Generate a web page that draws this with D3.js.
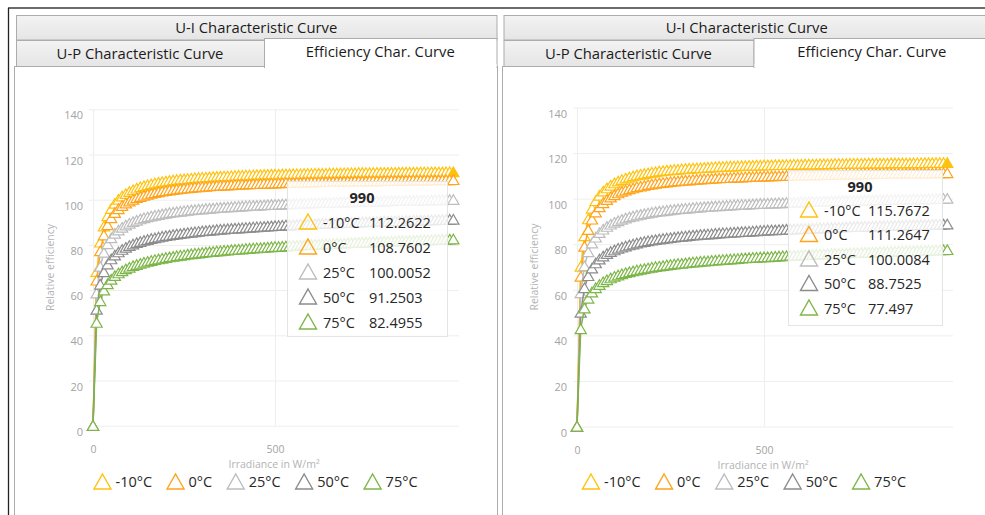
<!DOCTYPE html>
<html>
<head>
<meta charset="utf-8">
<script src="https://cdn.jsdelivr.net/npm/d3@7"></script>
<style>
  html, body { margin: 0; padding: 0; background: #fff; }
  svg { display: block; font-family: "Open Sans", "Noto Sans", sans-serif; }
</style>
</head>
<body>
<svg id="chart" width="985" height="515"></svg>
<script>
// Irradiance steps in W/m²
const irradiance = [0,10,20,30,40,50,60,70,80,90,100,110,120,130,140,150,160,170,180,190,
  200,210,220,230,240,250,260,270,280,290,300,310,320,330,340,350,360,370,380,390,
  400,410,420,430,440,450,460,470,480,490,500,510,520,530,540,550,560,570,580,590,
  600,610,620,630,640,650,660,670,680,690,700,710,720,730,740,750,760,770,780,790,
  800,810,820,830,840,850,860,870,880,890,900,910,920,930,940,950,960,970,980,990];

const temperatures = ["-10°C", "0°C", "25°C", "50°C", "75°C"];
const seriesColors = ["#FFC20E", "#FFA31A", "#BDBDBD", "#8C8C8C", "#7DB648"];

const yTicks = [0, 20, 40, 60, 80, 100, 120, 140];
const xTicks = [0, 500];

// Module A – relative efficiency per cell temperature
const leftMinus10 = [0,68.1,81.1,88.2,92.8,96.0,98.3,100.1,101.5,102.6,
  103.5,104.3,105.0,105.6,106.1,106.5,106.9,107.3,107.6,107.9,
  108.1,108.4,108.6,108.8,109.0,109.1,109.3,109.4,109.6,109.7,
  109.8,109.9,110.0,110.1,110.2,110.3,110.4,110.4,110.5,110.6,
  110.7,110.7,110.8,110.8,110.9,111.0,111.0,111.1,111.1,111.2,
  111.2,111.2,111.3,111.3,111.3,111.4,111.4,111.4,111.5,111.5,
  111.5,111.6,111.6,111.6,111.6,111.7,111.7,111.7,111.7,111.8,
  111.8,111.8,111.8,111.9,111.9,111.9,111.9,111.9,112.0,112.0,
  112.0,112.0,112.0,112.0,112.1,112.1,112.1,112.1,112.1,112.1,
  112.15,112.16,112.17,112.18,112.19,112.21,112.22,112.23,112.25,112.2622];
const leftZero = [0,64.3,77.3,84.3,88.8,91.9,94.2,95.9,97.3,98.4,
  99.3,100.1,100.8,101.3,101.8,102.3,102.7,103.0,103.4,103.7,
  103.9,104.2,104.4,104.6,104.8,105.0,105.1,105.3,105.5,105.6,
  105.7,105.8,106.0,106.1,106.2,106.3,106.4,106.4,106.5,106.6,
  106.7,106.8,106.8,106.9,107.0,107.0,107.1,107.2,107.2,107.3,
  107.3,107.4,107.4,107.5,107.5,107.5,107.6,107.6,107.7,107.7,
  107.8,107.8,107.8,107.9,107.9,107.9,108.0,108.0,108.0,108.1,
  108.1,108.1,108.2,108.2,108.2,108.2,108.3,108.3,108.3,108.3,
  108.4,108.4,108.4,108.4,108.5,108.5,108.5,108.5,108.6,108.6,
  108.6,108.62,108.63,108.65,108.67,108.68,108.71,108.73,108.74,108.7602];
const left25 = [0,58.6,70.4,76.6,80.4,83.0,85.0,86.5,87.7,88.7,
  89.5,90.2,90.8,91.4,91.9,92.3,92.7,93.0,93.3,93.6,
  93.9,94.2,94.4,94.6,94.8,95.0,95.2,95.4,95.5,95.7,
  95.8,96.0,96.1,96.2,96.4,96.5,96.6,96.7,96.8,96.9,
  97.0,97.1,97.2,97.3,97.4,97.4,97.5,97.6,97.7,97.8,
  97.8,97.9,98.0,98.0,98.1,98.1,98.2,98.3,98.3,98.4,
  98.5,98.5,98.6,98.6,98.7,98.7,98.8,98.8,98.9,98.9,
  99.0,99.0,99.0,99.1,99.1,99.2,99.2,99.2,99.3,99.3,
  99.4,99.4,99.4,99.5,99.5,99.5,99.6,99.6,99.6,99.7,
  99.7,99.74,99.77,99.81,99.84,99.87,99.90,99.94,99.97,100.0052];
const left50 = [0,51.4,62.5,68.0,71.4,73.7,75.4,76.8,77.9,78.8,
  79.6,80.3,80.9,81.4,81.9,82.3,82.7,83.0,83.4,83.7,
  84.0,84.2,84.5,84.7,84.9,85.1,85.3,85.5,85.7,85.9,
  86.1,86.2,86.4,86.5,86.7,86.8,86.9,87.1,87.2,87.3,
  87.4,87.5,87.6,87.7,87.8,87.9,88.0,88.1,88.2,88.3,
  88.4,88.5,88.6,88.7,88.7,88.8,88.9,89.0,89.1,89.1,
  89.2,89.3,89.3,89.4,89.5,89.5,89.6,89.7,89.7,89.8,
  89.9,89.9,90.0,90.0,90.1,90.1,90.2,90.2,90.3,90.3,
  90.4,90.4,90.5,90.5,90.6,90.6,90.7,90.7,90.8,90.8,
  90.87,90.91,90.95,90.99,91.04,91.08,91.12,91.17,91.21,91.2503];
const left75 = [0,45.6,55.2,59.9,62.7,64.7,66.3,67.5,68.4,69.3,
  70.0,70.7,71.2,71.7,72.2,72.6,73.0,73.4,73.7,74.0,
  74.3,74.6,74.8,75.1,75.3,75.5,75.8,76.0,76.2,76.3,
  76.5,76.7,76.9,77.0,77.2,77.3,77.5,77.6,77.8,77.9,
  78.0,78.1,78.3,78.4,78.5,78.6,78.7,78.8,78.9,79.1,
  79.2,79.2,79.3,79.4,79.5,79.6,79.7,79.8,79.9,80.0,
  80.1,80.1,80.2,80.3,80.4,80.4,80.5,80.6,80.7,80.7,
  80.8,80.9,81.0,81.0,81.1,81.1,81.2,81.3,81.3,81.4,
  81.5,81.5,81.6,81.6,81.7,81.8,81.8,81.9,81.9,82.0,
  82.04,82.09,82.14,82.19,82.24,82.30,82.35,82.40,82.45,82.4955];

// Module B – relative efficiency per cell temperature
const rightMinus10 = [0,70.2,83.6,91.0,95.7,99.0,101.4,103.2,104.6,105.8,
  106.8,107.6,108.3,108.9,109.4,109.9,110.3,110.6,110.9,111.2,
  111.5,111.7,112.0,112.2,112.4,112.5,112.7,112.8,113.0,113.1,
  113.2,113.3,113.4,113.5,113.6,113.7,113.8,113.9,114.0,114.0,
  114.1,114.2,114.2,114.3,114.4,114.4,114.5,114.5,114.6,114.6,
  114.7,114.7,114.7,114.8,114.8,114.8,114.9,114.9,115.0,115.0,
  115.0,115.1,115.1,115.1,115.1,115.2,115.2,115.2,115.2,115.3,
  115.3,115.3,115.3,115.4,115.4,115.4,115.4,115.4,115.5,115.5,
  115.5,115.5,115.5,115.5,115.6,115.6,115.6,115.6,115.6,115.6,
  115.65,115.66,115.67,115.69,115.70,115.72,115.73,115.74,115.76,115.7672];
const rightZero = [0,65.8,79.0,86.3,90.9,94.0,96.3,98.1,99.5,100.6,
  101.6,102.4,103.1,103.7,104.2,104.6,105.1,105.4,105.7,106.1,
  106.3,106.6,106.8,107.0,107.2,107.4,107.6,107.7,107.9,108.0,
  108.1,108.3,108.4,108.5,108.6,108.7,108.8,108.9,109.0,109.1,
  109.1,109.2,109.3,109.4,109.4,109.5,109.6,109.6,109.7,109.7,
  109.8,109.8,109.9,109.9,110.0,110.0,110.1,110.1,110.2,110.2,
  110.2,110.3,110.3,110.3,110.4,110.4,110.5,110.5,110.5,110.6,
  110.6,110.6,110.7,110.7,110.7,110.7,110.8,110.8,110.8,110.8,
  110.9,110.9,110.9,110.9,111.0,111.0,111.0,111.0,111.1,111.1,
  111.1,111.12,111.13,111.15,111.17,111.19,111.21,111.23,111.24,111.2647];
const right25 = [0,58.6,70.4,76.6,80.4,83.0,85.0,86.5,87.7,88.7,
  89.5,90.2,90.8,91.4,91.9,92.3,92.7,93.0,93.3,93.6,
  93.9,94.2,94.4,94.6,94.8,95.0,95.2,95.4,95.5,95.7,
  95.8,96.0,96.1,96.2,96.4,96.5,96.6,96.7,96.8,96.9,
  97.0,97.1,97.2,97.3,97.4,97.4,97.5,97.6,97.7,97.8,
  97.8,97.9,98.0,98.0,98.1,98.1,98.2,98.3,98.3,98.4,
  98.5,98.5,98.6,98.6,98.7,98.7,98.8,98.8,98.9,98.9,
  99.0,99.0,99.0,99.1,99.1,99.2,99.2,99.2,99.3,99.3,
  99.4,99.4,99.4,99.5,99.5,99.5,99.6,99.6,99.6,99.7,
  99.7,99.74,99.77,99.81,99.84,99.87,99.90,99.94,99.97,100.0084];
const right50 = [0,50.0,60.8,66.1,69.4,71.7,73.4,74.7,75.8,76.7,
  77.4,78.1,78.6,79.1,79.6,80.0,80.4,80.8,81.1,81.4,
  81.7,81.9,82.2,82.4,82.6,82.8,83.0,83.2,83.4,83.5,
  83.7,83.9,84.0,84.2,84.3,84.4,84.5,84.7,84.8,84.9,
  85.0,85.1,85.2,85.3,85.4,85.5,85.6,85.7,85.8,85.9,
  86.0,86.1,86.2,86.2,86.3,86.4,86.5,86.5,86.6,86.7,
  86.8,86.8,86.9,86.9,87.0,87.1,87.1,87.2,87.3,87.3,
  87.4,87.4,87.5,87.6,87.6,87.7,87.7,87.8,87.8,87.9,
  87.9,88.0,88.0,88.1,88.1,88.1,88.2,88.2,88.3,88.3,
  88.38,88.42,88.46,88.50,88.55,88.58,88.63,88.67,88.71,88.7525];
const right75 = [0,42.8,51.9,56.2,58.9,60.8,62.2,63.4,64.3,65.1,
  65.8,66.4,66.9,67.4,67.8,68.2,68.6,68.9,69.2,69.5,
  69.8,70.1,70.3,70.5,70.8,71.0,71.2,71.4,71.5,71.7,
  71.9,72.1,72.2,72.4,72.5,72.6,72.8,72.9,73.1,73.2,
  73.3,73.4,73.5,73.6,73.8,73.9,74.0,74.1,74.2,74.3,
  74.4,74.4,74.5,74.6,74.7,74.8,74.9,75.0,75.0,75.1,
  75.2,75.3,75.4,75.4,75.5,75.6,75.6,75.7,75.8,75.9,
  75.9,76.0,76.0,76.1,76.2,76.2,76.3,76.4,76.4,76.5,
  76.5,76.6,76.6,76.7,76.8,76.8,76.9,76.9,77.0,77.0,
  77.07,77.12,77.16,77.21,77.26,77.31,77.36,77.40,77.45,77.497];

const svg = d3.select("#chart");
const defs = svg.append("defs");
const grad = defs.append("linearGradient").attr("id", "tabFill")
  .attr("x1", 0).attr("y1", 0).attr("x2", 0).attr("y2", 1);
grad.append("stop").attr("offset", "0%").attr("stop-color", "#f3f3f3");
grad.append("stop").attr("offset", "100%").attr("stop-color", "#e5e5e5");

svg.append("rect").attr("width", 985).attr("height", 515).attr("fill", "#fff");
// window frame
svg.append("line").attr("x1", 8).attr("y1", 8).attr("x2", 985).attr("y2", 8)
  .attr("stroke", "#6b6b6b").attr("stroke-width", 2);
svg.append("line").attr("x1", 8.5).attr("y1", 8).attr("x2", 8.5).attr("y2", 515)
  .attr("stroke", "#222").attr("stroke-width", 1.3);

const smallTri = "M0,-5L5.6,4.6L-5.6,4.6Z";
const bigTri = "M0,-8L8.5,7L-8.5,7Z";

function drawPanel(p) {
  const g = svg.append("g");

  // content frame
  g.append("rect").attr("x", p.left + 0.5).attr("y", 66.5)
    .attr("width", p.right - p.left).attr("height", 470)
    .attr("fill", "#fff").attr("stroke", "#acacac");

  // tab strip
  g.append("rect").attr("x", p.tabL + 0.5).attr("y", 15.5)
    .attr("width", p.tabR - p.tabL).attr("height", 24.5)
    .attr("fill", "url(#tabFill)").attr("stroke", "#acacac");
  g.append("rect").attr("x", p.tabL + 0.5).attr("y", 40.5)
    .attr("width", p.split - p.tabL).attr("height", 26)
    .attr("fill", "url(#tabFill)").attr("stroke", "#acacac");
  g.append("rect").attr("x", p.split + 0.5).attr("y", 38.5)
    .attr("width", p.tabR - p.split).attr("height", 29)
    .attr("fill", "#fff").attr("stroke", "#acacac");
  g.append("rect").attr("x", p.split + 1).attr("y", 64)
    .attr("width", p.tabR - p.split - 1).attr("height", 4).attr("fill", "#fff");

  const tabText = (x, y, t) => g.append("text").attr("x", x).attr("y", y)
    .attr("text-anchor", "middle").attr("font-size", 14.8).attr("fill", "#1b1b1b").text(t);
  tabText((p.tabL + p.tabR) / 2, 33, "U-I Characteristic Curve");
  tabText((p.tabL + p.split) / 2, 59, "U-P Characteristic Curve");
  tabText((p.split + p.tabR) / 2, 57, "Efficiency Char. Curve");

  // scales
  const xs = d3.scaleLinear().domain([0, 1000]).range(p.xr);
  const ys = d3.scaleLinear().domain([0, 140]).range(p.yr);
  const gridL = xs(0) - 4, gridR = xs(1000) + 2;

  // axes with gridlines
  const yAxis = d3.axisLeft(ys).tickValues(yTicks).tickSize(-(gridR - gridL))
    .tickPadding(gridL - p.yLabelRight);
  const ya = g.append("g").attr("transform", `translate(${gridL},0)`).call(yAxis);
  ya.select(".domain").remove();
  ya.selectAll("line").attr("stroke", "#eeeeee");
  ya.selectAll("text").attr("font-family", "Open Sans, sans-serif").attr("font-size", 11)
    .attr("fill", "#a3a3a3").attr("y", 6);

  const xAxis = d3.axisBottom(xs).tickValues(xTicks).tickSize(-(ys(0) - ys(140)))
    .tickPadding(20);
  const xa = g.append("g").attr("transform", `translate(0,${ys(0)})`).call(xAxis);
  xa.select(".domain").remove();
  xa.selectAll("line").attr("stroke", "#eeeeee");
  xa.selectAll("text").attr("font-family", "Open Sans, sans-serif").attr("font-size", 10.5)
    .attr("fill", "#a3a3a3");

  g.append("text").attr("x", (gridL + gridR) / 2).attr("y", ys(0) + 42.3)
    .attr("text-anchor", "middle").attr("font-size", 10.5).attr("fill", "#b3b3b3")
    .text("Irradiance in W/m²");
  g.append("text")
    .attr("transform", `translate(${p.yTitleX},${(ys(0) + ys(140)) / 2}) rotate(-90)`)
    .attr("text-anchor", "middle").attr("font-size", 10.5).attr("fill", "#b3b3b3")
    .text("Relative efficiency");

  // series
  const line = d3.line().x((d, i) => xs(irradiance[i])).y(d => ys(d));
  p.series.forEach((vals, k) => {
    const sg = g.append("g");
    sg.append("path").attr("d", line(vals)).attr("fill", "none")
      .attr("stroke", seriesColors[k]).attr("stroke-width", 1.5);
    sg.selectAll("path.m").data(vals).join("path").attr("class", "m")
      .attr("d", smallTri)
      .attr("transform", (d, i) => `translate(${xs(irradiance[i])},${ys(d)})`)
      .attr("fill", (d, i) => (k === 0 && i === vals.length - 1) ? seriesColors[k] : "#fff")
      .attr("stroke", seriesColors[k]).attr("stroke-width", 1.2);
  });

  // tooltip for the hovered irradiance
  const hi = irradiance.length - 1;
  const t = p.tip;
  g.append("rect").attr("x", t.x + 0.5).attr("y", t.y + 0.5).attr("width", t.w).attr("height", t.h)
    .attr("fill", "#fff").attr("fill-opacity", 0.82).attr("stroke", "#e4e4e4");
  g.append("text").attr("x", t.x + t.w / 2 - 5).attr("y", t.y + 22)
    .attr("text-anchor", "middle").attr("font-size", 14.5).attr("font-weight", "bold")
    .attr("fill", "#262626").text(irradiance[hi]);
  p.series.forEach((vals, k) => {
    const ry = t.y + t.first + k * t.step;
    g.append("path").attr("d", bigTri).attr("transform", `translate(${t.x + 21},${ry})`)
      .attr("fill", "none").attr("stroke", seriesColors[k]).attr("stroke-width", 1.4);
    g.append("text").attr("x", t.x + 36).attr("y", ry + 5.5).attr("font-size", 14.5)
      .attr("fill", "#262626").text(temperatures[k]);
    g.append("text").attr("x", t.x + t.valX).attr("y", ry + 5.5).attr("font-size", 14.5)
      .attr("fill", "#262626").text(String(vals[hi]));
  });

  // legend, centred on the panel
  const lg = g.append("g");
  let cx = 0;
  temperatures.forEach((name, k) => {
    lg.append("path").attr("d", bigTri).attr("transform", `translate(${cx + 9},${p.legendY})`)
      .attr("fill", "none").attr("stroke", seriesColors[k]).attr("stroke-width", 1.4);
    const tx = lg.append("text").attr("x", cx + 22).attr("y", p.legendY + 5.2)
      .attr("font-size", 14.5).attr("fill", "#262626").text(name);
    cx += 22 + tx.node().getComputedTextLength() + 14.5;
  });
  const lw = cx - 14.5;
  lg.attr("transform", `translate(${(p.left + p.right) / 2 - lw / 2},0)`);
}

drawPanel({
  left: 14, right: 497, tabL: 16, tabR: 496.5, split: 264,
  xr: [93, 457], yr: [425.7, 109.3], yLabelRight: 83, yTitleX: 54,
  legendY: 482,
  tip: { x: 287, y: 181, w: 160, h: 155, first: 41, step: 25, valX: 82 },
  series: [leftMinus10, leftZero, left25, left50, left75]
});
drawPanel({
  left: 502, right: 986, tabL: 503.5, tabR: 990, split: 753.5,
  xr: [577, 951], yr: [426.5, 107.5], yLabelRight: 567, yTitleX: 538,
  legendY: 482,
  tip: { x: 788, y: 170, w: 154, h: 155, first: 40, step: 24.5, valX: 80 },
  series: [rightMinus10, rightZero, right25, right50, right75]
});
</script>
</body>
</html>
